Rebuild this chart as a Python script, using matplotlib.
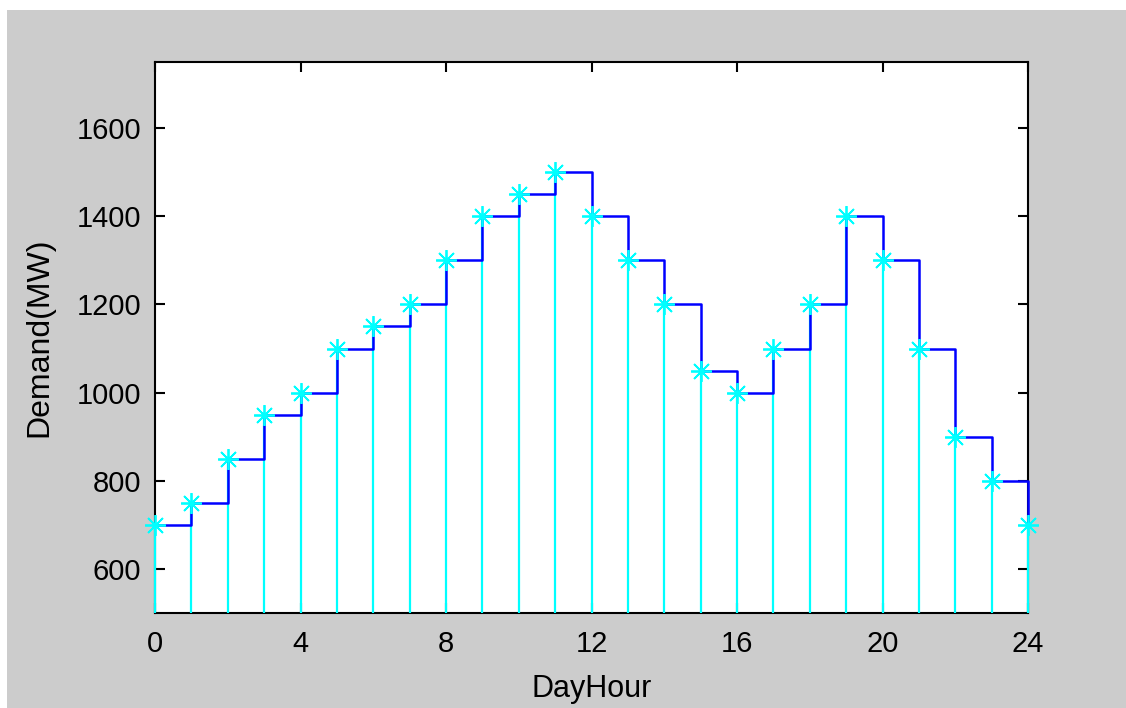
import matplotlib.pyplot as plt
from matplotlib.patches import Rectangle

# hourly demand (MW)
hours = list(range(25))
demand = [700, 750, 850, 950, 1000, 1100, 1150, 1200, 1300, 1400, 1450, 1500,
          1400, 1300, 1200, 1050, 1000, 1100, 1200, 1400, 1300, 1100, 900, 800, 700]
xticks = [0, 4, 8, 12, 16, 20, 24]
yticks = [600, 800, 1000, 1200, 1400, 1600]

plt.rcParams['font.family'] = ['Liberation Sans', 'DejaVu Sans']

fig = plt.figure(figsize=(11.26, 7.08), dpi=100, facecolor='white')
# gray figure window area
fig.patches.append(Rectangle((7 / 1126, 0), 1 - 7 / 1126, 1 - 10 / 708,
                             transform=fig.transFigure, facecolor='#cccccc',
                             edgecolor='none', zorder=-5))

ax = fig.add_axes([155 / 1126, 1 - 613 / 708, 873 / 1126, 551 / 708])
ax.set_facecolor('white')

ymin = 500
ax.vlines(hours, ymin, demand, color='cyan', lw=1.6, zorder=3, clip_on=False)
ax.step(hours, demand, where='post', color='blue', lw=1.8, zorder=4, clip_on=False)
ax.plot(hours, demand, ls='none', marker=(8, 2, 0), color='cyan', ms=15, mew=1.3,
        zorder=5, clip_on=False)

ax.set_xlim(0, 24)
ax.set_ylim(ymin, 1750)
ax.set_xticks(xticks)
ax.set_yticks(yticks)
ax.tick_params(direction='in', top=True, right=True, length=7, width=1.5,
               labelsize=21)
ax.tick_params(axis='x', pad=12)
ax.tick_params(axis='y', pad=10)
for s in ax.spines.values():
    s.set_linewidth(1.5)

ax.set_xlabel('DayHour', fontsize=22, labelpad=12)
ax.set_ylabel('Demand(MW)', fontsize=23, labelpad=16)

fig.savefig('out.png', dpi=100, facecolor=fig.get_facecolor())
